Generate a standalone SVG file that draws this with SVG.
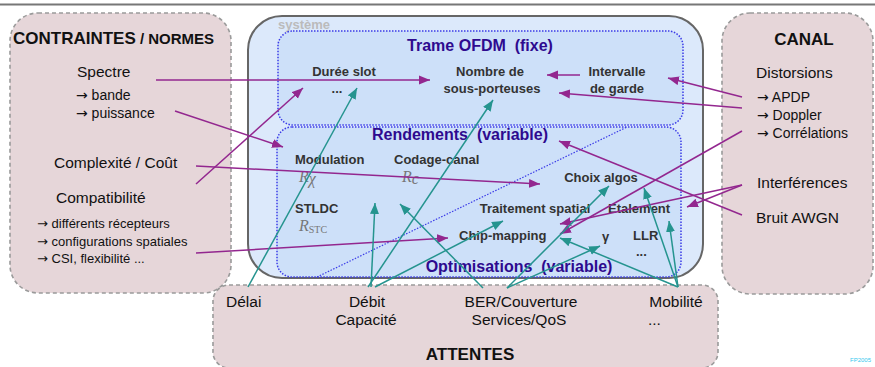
<svg xmlns="http://www.w3.org/2000/svg" width="875" height="367" viewBox="0 0 875 367">
<style>
text{font-family:"Liberation Sans",Arial,sans-serif;fill:#111}
.ar{font-family:"DejaVu Sans",sans-serif}
.pink{fill:#e6d6d9;stroke:#9a9a9a;stroke-width:1.6;stroke-dasharray:4 3}
.dot{fill:#cde0f9;stroke:#3b3be8;stroke-width:1.5;stroke-dasharray:1.5 1.5}
.in{font-weight:bold;font-size:13px;fill:#333}
.ttl{font-weight:bold;font-size:16px;fill:#2e0a8f}
.hd{font-weight:bold;font-size:17px;fill:#111}
.lb{font-size:15.5px}
.sm{font-size:14px}
.xs{font-size:13px}
.m{font-family:"Liberation Serif","Times New Roman",serif;font-style:italic;font-size:16px;fill:#777}
.ms{font-family:"Liberation Serif","Times New Roman",serif;font-style:normal;font-size:10px;fill:#777}
.pu{stroke:#93278f;stroke-width:1.5;fill:none;marker-end:url(#ap)}
.te{stroke:#25948f;stroke-width:1.5;fill:none;marker-end:url(#at)}
</style>
<defs>
<marker id="ap" markerUnits="userSpaceOnUse" markerWidth="12" markerHeight="10" viewBox="0 0 12 10" refX="11" refY="5" orient="auto"><path d="M0,0.5 L11,5 L0,9.5 Z" fill="#93278f"/></marker>
<marker id="at" markerUnits="userSpaceOnUse" markerWidth="12" markerHeight="10" viewBox="0 0 12 10" refX="11" refY="5" orient="auto"><path d="M0,0.5 L11,5 L0,9.5 Z" fill="#25948f"/></marker>
</defs>
<rect width="875" height="367" fill="#fff"/>
<line x1="0" y1="4.5" x2="875" y2="4.5" stroke="#777" stroke-width="2"/>

<g id="contraintes">
<rect class="pink" x="10" y="13" width="221" height="280" rx="28"/>
<text x="13" y="44" class="hd">CONTRAINTES<tspan font-size="15px"> / NORMES</tspan></text>
<text x="77" y="77" class="lb">Spectre</text>
<text x="76" y="100" class="sm"><tspan class="ar">→</tspan> bande</text>
<text x="76" y="118" class="sm"><tspan class="ar">→</tspan> puissance</text>
<text x="54" y="168" class="lb">Complexité / Coût</text>
<text x="56" y="203" class="lb">Compatibilité</text>
<text x="37" y="228" class="xs"><tspan class="ar">→</tspan> différents récepteurs</text>
<text x="37" y="246" class="xs"><tspan class="ar">→</tspan> configurations spatiales</text>
<text x="37" y="263" class="xs"><tspan class="ar">→</tspan> CSI, flexibilité ...</text>
</g>

<g id="canal">
<rect class="pink" x="722" y="13" width="151" height="281" rx="28"/>
<text x="804" y="45" class="hd" text-anchor="middle">CANAL</text>
<text x="756" y="78" class="lb">Distorsions</text>
<text x="757" y="102" class="sm"><tspan class="ar">→</tspan> APDP</text>
<text x="757" y="120" class="sm"><tspan class="ar">→</tspan> Doppler</text>
<text x="757" y="138" class="sm"><tspan class="ar">→</tspan> Corrélations</text>
<text x="757" y="188" class="lb">Interférences</text>
<text x="756" y="223" class="lb">Bruit AWGN</text>
</g>

<g id="systeme">
<rect x="248" y="16" width="455" height="262" rx="34" fill="#dce9fb" stroke="#666" stroke-width="2"/>
<text x="278" y="29" font-weight="bold" font-size="13px" style="fill:#bbb">système</text>
</g>

<g id="trame">
<rect class="dot" x="278" y="31" width="405" height="94" rx="15"/>
<text x="480" y="51" class="ttl" text-anchor="middle">Trame OFDM&#160; (fixe)</text>
<text x="344" y="76" class="in" text-anchor="middle">Durée slot</text>
<text x="337" y="93" class="in" text-anchor="middle">...</text>
<text x="490" y="76" class="in" text-anchor="middle">Nombre de</text>
<text x="492" y="93" class="in" text-anchor="middle">sous-porteuses</text>
<text x="617" y="76" class="in" text-anchor="middle">Intervalle</text>
<text x="617" y="93" class="in" text-anchor="middle">de garde</text>
</g>

<g id="rendements">
<rect class="dot" x="277" y="127" width="404" height="150" rx="15"/>
<line x1="317" y1="277" x2="627" y2="127" stroke="#3b3be8" stroke-width="1.2" stroke-dasharray="1.5 1.5"/>
<text x="460" y="140" class="ttl" text-anchor="middle">Rendements&#160; (variable)</text>
<text x="295" y="164" class="in">Modulation</text>
<text x="299" y="182" class="m">R<tspan class="m" font-size="12px" dy="2">χ</tspan></text>
<text x="394" y="164" class="in">Codage-canal</text>
<text x="402" y="182" class="m">R<tspan class="m" font-size="12px" dy="2">c</tspan></text>
<text x="295" y="213" class="in">STLDC</text>
<text x="299" y="231" class="m">R<tspan class="ms" dy="2">STC</tspan></text>
</g>

<g id="optimisations">
<text x="601" y="182" class="in" text-anchor="middle">Choix algos</text>
<text x="535" y="213" class="in" text-anchor="middle">Traitement spatial</text>
<text x="608" y="213" class="in">Etalement</text>
<text x="459" y="240" class="in">Chip-mapping</text>
<text x="602" y="241" class="in" font-size="15px">γ</text>
<text x="633" y="240" class="in">LLR</text>
<text x="636" y="256" class="in">...</text>
<text x="519" y="272" class="ttl" text-anchor="middle">Optimisations&#160; (variable)</text>
</g>

<g id="attentes">
<rect class="pink" x="213" y="285" width="505" height="83" rx="16"/>
<text x="226" y="307" class="lb">Délai</text>
<text x="367" y="307" class="lb" text-anchor="middle">Débit</text>
<text x="366" y="325" class="lb" text-anchor="middle">Capacité</text>
<text x="521" y="307" class="lb" text-anchor="middle">BER/Couverture</text>
<text x="519" y="325" class="lb" text-anchor="middle">Services/QoS</text>
<text x="676" y="307" class="lb" text-anchor="middle">Mobilité</text>
<text x="648" y="325" class="lb">...</text>
<text x="470" y="360" class="hd" text-anchor="middle">ATTENTES</text>
</g>

<g id="connectors">
<line class="pu" x1="156" y1="80" x2="430" y2="80"/>
<line class="pu" x1="175" y1="111" x2="283" y2="147"/>
<line class="pu" x1="196" y1="184" x2="303" y2="88"/>
<line class="pu" x1="196" y1="166" x2="540" y2="184"/>
<line class="pu" x1="196" y1="253" x2="448" y2="238"/>
<line class="pu" x1="580" y1="75" x2="547" y2="75"/>
<line class="pu" x1="742" y1="97" x2="668" y2="78"/>
<line class="pu" x1="742" y1="108" x2="559" y2="93"/>
<line class="pu" x1="742" y1="131" x2="560" y2="234"/>
<line class="pu" x1="742" y1="185" x2="687" y2="207"/>
<line class="pu" x1="742" y1="185" x2="560" y2="224"/>
<line class="pu" x1="742" y1="215" x2="559" y2="141"/>

<line class="te" x1="248" y1="287" x2="357" y2="88"/>
<line class="te" x1="368" y1="287" x2="493" y2="100"/>
<line class="te" x1="371" y1="287" x2="375" y2="203"/>
<line class="te" x1="375" y1="287" x2="503" y2="221"/>
<line class="te" x1="483" y1="288" x2="400" y2="204"/>
<line class="te" x1="507" y1="288" x2="609" y2="186"/>
<line class="te" x1="507" y1="288" x2="600" y2="246"/>
<line class="te" x1="678" y1="287" x2="644" y2="188"/>
<line class="te" x1="678" y1="287" x2="669" y2="221"/>
<line class="te" x1="678" y1="287" x2="560" y2="238"/>
</g>

<text x="850" y="362" font-size="6px" style="fill:#33c8ee">FP2005</text>
</svg>
